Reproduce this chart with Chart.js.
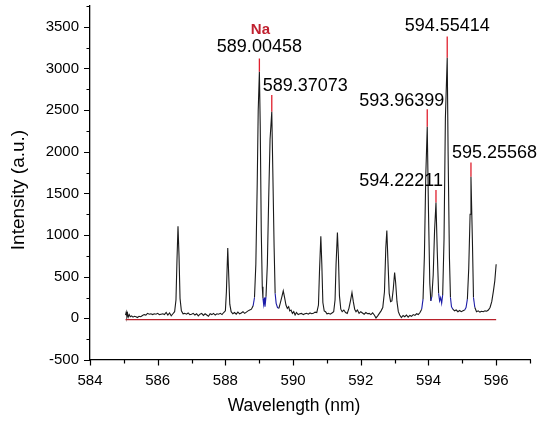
<!DOCTYPE html>
<html>
<head>
<meta charset="utf-8">
<script src="https://cdn.jsdelivr.net/npm/chart.js@4/dist/chart.umd.min.js"></script>
<style>
  html, body { margin: 0; padding: 0; background: #fff; }
  #wrap { width: 550px; height: 422px; }
</style>
</head>
<body>
<div id="wrap"><canvas id="c" width="550" height="422"></canvas></div>
<script>
// ---- Data ----
const wavelength = [
  585.05,585.07,585.09,585.11,585.13,585.16,585.19,585.23,585.27,585.31,585.36,585.40,585.45,585.50,585.55,585.60,585.65,585.70,585.75,585.80,
  585.85,585.90,585.95,586.00,586.05,586.10,586.15,586.20,586.25,586.30,586.35,586.40,586.45,586.50,586.54,586.57,586.60,586.63,586.66,586.70,
  586.75,586.80,586.85,586.90,586.95,587.00,587.05,587.10,587.15,587.20,587.25,587.30,587.35,587.40,587.45,587.50,587.55,587.60,587.65,587.70,
  587.75,587.80,587.85,587.90,587.95,588.00,588.03,588.07,588.10,588.13,588.17,588.22,588.27,588.32,588.37,588.42,588.47,588.52,588.57,588.62,
  588.67,588.72,588.77,588.82,588.86,588.90,588.94,588.97,589.00458,589.03,589.06,589.09,589.11,589.13,589.15,589.17,589.20,589.24,589.28,589.32,
  589.37073,589.40,589.44,589.47,589.50,589.54,589.58,589.62,589.67,589.71,589.75,589.79,589.83,589.87,589.90,589.94,589.98,590.02,590.06,590.10,
  590.15,590.20,590.25,590.30,590.35,590.40,590.45,590.50,590.55,590.60,590.65,590.70,590.75,590.78,590.82,590.85,590.88,590.92,590.96,591.00,
  591.05,591.10,591.15,591.20,591.24,591.27,591.31,591.34,591.37,591.41,591.45,591.50,591.55,591.60,591.65,591.70,591.74,591.78,591.82,591.86,
  591.90,591.95,592.00,592.05,592.10,592.15,592.20,592.25,592.30,592.35,592.40,592.45,592.50,592.55,592.60,592.65,592.70,592.74,592.77,592.80,
  592.84,592.88,592.92,592.96,593.00,593.03,593.07,593.11,593.15,593.20,593.25,593.30,593.35,593.40,593.45,593.50,593.55,593.60,593.65,593.70,
  593.75,593.80,593.84,593.88,593.92,593.96399,594.00,594.04,594.07,594.10,594.14,594.18,594.22211,594.26,594.30,594.33,594.36,594.39,594.42,594.46,
  594.50,594.55414,594.58,594.62,594.65,594.68,594.72,594.77,594.82,594.87,594.92,594.97,595.02,595.07,595.11,595.15,595.19,595.23,595.25568,595.30,
  595.33,595.37,595.42,595.47,595.52,595.57,595.62,595.67,595.72,595.77,595.82,595.87,595.92,595.96,596.00
];
const intensity = [
  40,75,20,60,15,45,20,30,15,25,20,10,25,20,35,45,40,60,50,55,
  45,55,50,60,45,50,55,45,70,40,65,30,55,80,220,700,1105,750,240,90,
  55,60,50,65,45,50,60,40,55,30,50,60,35,55,40,25,55,45,60,40,
  55,50,60,45,70,90,320,845,500,170,80,55,70,50,75,55,65,80,60,75,
  90,100,110,150,250,650,1600,2500,2960,2300,1050,380,240,170,250,140,260,650,1450,2150,
  2480,1800,850,300,180,130,120,180,260,330,250,160,120,140,90,100,60,80,40,70,
  45,55,60,45,55,60,50,65,55,60,75,70,160,560,985,640,190,90,80,55,
  60,50,65,80,220,650,1030,740,270,110,80,100,70,60,120,220,310,200,110,80,
  100,60,80,65,50,70,55,60,45,65,40,5,30,60,90,130,320,850,1055,720,
  300,200,210,350,550,430,200,80,40,10,35,20,40,15,35,25,45,35,55,45,
  70,110,230,750,1700,2300,1300,420,210,260,520,1050,1390,800,300,210,250,180,280,950,
  2400,3130,2000,720,250,140,110,90,100,80,95,80,90,100,130,230,600,1250,1700,900,
  250,130,80,90,75,85,80,90,85,100,130,200,330,450,650
];
// labelled peaks (Na lines): wavelength, marked peak height
const peakWavelength = [589.00458, 589.37073, 593.96399, 594.22211, 594.55414, 595.25568];
const peakIntensity  = [3120, 2680, 2510, 1540, 3385, 1870];
const peakLabels     = ['589.00458', '589.37073', '593.96399', '594.22211', '594.55414', '595.25568'];
const elementLabel   = 'Na';
// fitted baseline
const baselineWavelength = [585.05, 596.0];
const baselineIntensity  = [-15, -15];
// axes
const xRange = [584, 597];
const yRange = [-500, 3750];
const xTitle = 'Wavelength (nm)';
const yTitle = 'Intensity (a.u.)';

// ---- Build datasets ----
const FONT = '"Liberation Sans", Arial, sans-serif';
const spectrum = wavelength.map((x, i) => ({ x, y: intensity[i] }));
const baseline = baselineWavelength.map((x, i) => ({ x, y: baselineIntensity[i] }));
// red peak markers: from the measured spectrum top up to the marked peak height
const markers = [];
peakWavelength.forEach((x, i) => {
  const j = wavelength.indexOf(x);
  markers.push({ x, y: intensity[j] });
  markers.push({ x, y: peakIntensity[i] });
  markers.push({ x, y: null });
});

function nearPeak(x) {
  return peakWavelength.some(p => Math.abs(x - p) < 0.2);
}

// label placement (pixel offsets relative to the marked peak top)
const labelPlace = [
  { align: 'center', dx: 0,   dy: -11 },
  { align: 'left',   dx: -9,  dy: -9 },
  { align: 'right',  dx: 17,  dy: -8 },
  { align: 'right',  dx: 7,   dy: -9 },
  { align: 'center', dx: 0,   dy: -10 },
  { align: 'left',   dx: -19, dy: -10 }
];

const decorPlugin = {
  id: 'decor',
  afterDraw(chart) {
    const ctx = chart.ctx;
    const xs = chart.scales.x, ys = chart.scales.y;
    const area = chart.chartArea;
    ctx.save();
    // ticks
    ctx.strokeStyle = '#000';
    ctx.lineWidth = 1.2;
    ctx.beginPath();
    ys.ticks.forEach(t => {
      const y = Math.round(ys.getPixelForValue(t.value)) + 0.5;
      const len = (t.value % 500 === 0) ? 6 : 3.5;
      ctx.moveTo(area.left - len, y);
      ctx.lineTo(area.left, y);
    });
    xs.ticks.forEach(t => {
      const x = Math.round(xs.getPixelForValue(t.value)) + 0.5;
      const len = (t.value % 2 === 0) ? 5.5 : 3.5;
      ctx.moveTo(x, area.bottom);
      ctx.lineTo(x, area.bottom + len);
    });
    ctx.stroke();
    // peak labels
    ctx.fillStyle = '#000';
    ctx.font = '18px ' + FONT;
    ctx.textBaseline = 'middle';
    peakWavelength.forEach((w, i) => {
      const px = xs.getPixelForValue(w);
      const py = ys.getPixelForValue(peakIntensity[i]);
      const p = labelPlace[i];
      ctx.textAlign = p.align;
      ctx.fillText(peakLabels[i], px + p.dx, py + p.dy);
    });
    // element label
    ctx.fillStyle = '#c0202f';
    ctx.font = 'bold 15px ' + FONT;
    ctx.textAlign = 'center';
    ctx.fillText(elementLabel, xs.getPixelForValue(peakWavelength[0]) + 1, ys.getPixelForValue(peakIntensity[0]) - 29);
    // axis titles
    ctx.fillStyle = '#000';
    ctx.font = '17.5px ' + FONT;
    ctx.textAlign = 'center';
    ctx.fillText(xTitle, area.left + 204, area.bottom + 46);
    ctx.font = '19px ' + FONT;
    ctx.translate(18.5, area.top + 184);
    ctx.rotate(-Math.PI / 2);
    ctx.fillText(yTitle, 0, 0);
    ctx.restore();
  }
};

new Chart(document.getElementById('c'), {
  type: 'line',
  data: {
    datasets: [
      {
        data: baseline,
        borderColor: '#b8202a',
        borderWidth: 1.2,
        pointRadius: 0,
        tension: 0
      },
      {
        data: spectrum,
        borderColor: '#1a1a1a',
        borderWidth: 1.1,
        pointRadius: 0,
        tension: 0,
        segment: {
          borderColor: c => {
            const a = c.p0.parsed, b = c.p1.parsed;
            const hi = Math.max(a.y, b.y), lo = Math.min(a.y, b.y);
            return (hi < 330 && lo > 95 && nearPeak((a.x + b.x) / 2)) ? '#1c1ca8' : undefined;
          }
        }
      },
      {
        data: markers,
        borderColor: '#e0202e',
        borderWidth: 1.3,
        pointRadius: 0,
        spanGaps: false,
        tension: 0
      }
    ]
  },
  options: {
    responsive: false,
    animation: false,
    devicePixelRatio: 1,
    layout: { padding: { top: 6, right: 20, left: 0, bottom: 0 } },
    plugins: { legend: { display: false }, tooltip: { enabled: false } },
    scales: {
      x: {
        type: 'linear',
        min: xRange[0], max: xRange[1],
        grid: { display: false },
        border: { display: true, color: '#000', width: 1.3 },
        ticks: {
          stepSize: 1, autoSkip: false, maxRotation: 0,
          color: '#000', font: { family: FONT, size: 15 }, padding: 4,
          callback: v => (v % 2 === 0 ? String(v) : '')
        },
        afterFit: s => { s.height = 62; s.paddingLeft = 0; s.paddingRight = 0; }
      },
      y: {
        type: 'linear',
        min: yRange[0], max: yRange[1],
        grid: { display: false },
        border: { display: true, color: '#000', width: 1.3 },
        ticks: {
          stepSize: 250, autoSkip: false,
          color: '#000', font: { family: FONT, size: 15 }, padding: 3,
          callback: v => (v % 500 === 0 ? String(v) : '')
        },
        afterFit: s => { s.width = 90; s.paddingTop = 0; s.paddingBottom = 0; }
      }
    }
  },
  plugins: [decorPlugin]
});
</script>
</body>
</html>
